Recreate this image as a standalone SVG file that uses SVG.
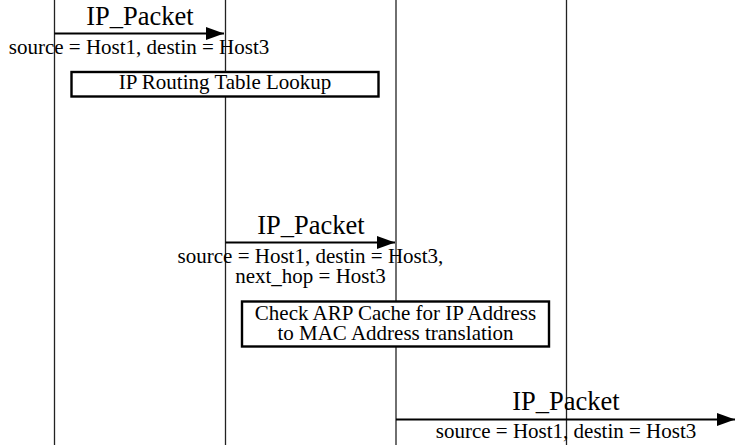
<svg xmlns="http://www.w3.org/2000/svg" width="736" height="445" viewBox="0 0 736 445">
<style>
  .life { stroke: #222; stroke-width: 1.3; fill: none; }
  .msg { stroke: #000; stroke-width: 2.2; fill: none; }
  .box { fill: #fff; stroke: #000; stroke-width: 2.4; }
  .title { font-family: "Liberation Serif", "Times New Roman", serif; font-size: 26.5px; fill: #000; text-anchor: middle; }
  .lbl { font-family: "Liberation Serif", "Times New Roman", serif; font-size: 21px; fill: #000; text-anchor: middle; }
</style>
<defs>
  <marker id="arrow" markerUnits="userSpaceOnUse" markerWidth="18" markerHeight="14" refX="18" refY="7" orient="auto">
    <path d="M0,0.5 L18,7 L0,13.5 z" fill="#000"/>
  </marker>
</defs>
<rect width="736" height="445" fill="#fff"/>
<g id="lifeline-1"><line class="life" x1="54.5" y1="0" x2="54.5" y2="445"/></g>
<g id="lifeline-2"><line class="life" x1="225.5" y1="0" x2="225.5" y2="445"/></g>
<g id="lifeline-3"><line class="life" x1="396" y1="0" x2="396" y2="445"/></g>
<g id="lifeline-4"><line class="life" x1="566.5" y1="0" x2="566.5" y2="445"/></g>
<g id="connectors">
  <g id="msg-1">
    <line class="msg" x1="54.5" y1="33.5" x2="224" y2="33.5" marker-end="url(#arrow)"/>
    <text class="title" x="140" y="25">IP_Packet</text>
    <text class="lbl" x="139" y="54">source = Host1, destin = Host3</text>
  </g>
  <g id="msg-2">
    <line class="msg" x1="225.5" y1="242.5" x2="395" y2="242.5" marker-end="url(#arrow)"/>
    <text class="title" x="311" y="234">IP_Packet</text>
    <text class="lbl" x="310.5" y="263">source = Host1, destin = Host3,</text>
    <text class="lbl" x="310.5" y="283">next_hop = Host3</text>
  </g>
  <g id="msg-3">
    <line class="msg" x1="396" y1="419.5" x2="735" y2="419.5" marker-end="url(#arrow)"/>
    <text class="title" x="566" y="410">IP_Packet</text>
    <text class="lbl" x="566" y="438">source = Host1, destin = Host3</text>
  </g>
</g>
<g id="action-1">
  <rect class="box" x="71.5" y="72" width="307" height="24.5"/>
  <text class="lbl" x="225" y="89">IP Routing Table Lookup</text>
</g>
<g id="action-2">
  <rect class="box" x="242" y="301.5" width="307" height="45"/>
  <text class="lbl" x="395.5" y="320">Check ARP Cache for IP Address</text>
  <text class="lbl" x="395.5" y="340">to MAC Address translation</text>
</g>
</svg>
